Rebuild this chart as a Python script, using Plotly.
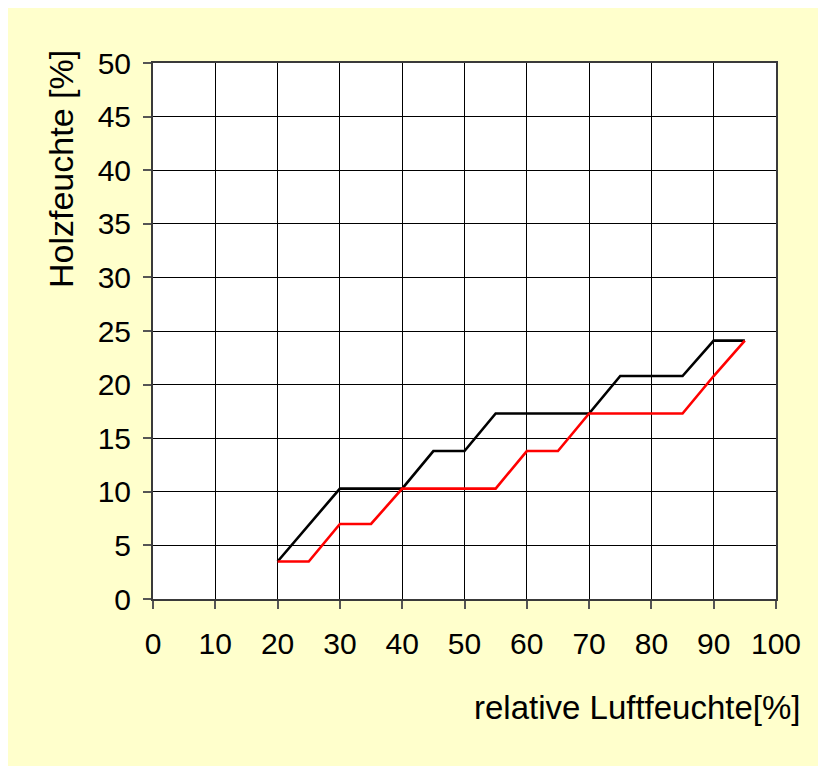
import plotly.graph_objects as go

# Data
black_x = [20, 30, 40, 45, 50, 55, 70, 75, 85, 90, 95]
black_y = [3.5, 10.3, 10.3, 13.8, 13.8, 17.3, 17.3, 20.8, 20.8, 24.1, 24.1]
red_x = [20, 25, 30, 35, 40, 55, 60, 65, 70, 85, 90, 95]
red_y = [3.5, 3.5, 7.0, 7.0, 10.3, 10.3, 13.8, 13.8, 17.3, 17.3, 20.8, 24.1]
x_ticks = [0, 10, 20, 30, 40, 50, 60, 70, 80, 90, 100]
y_ticks = [0, 5, 10, 15, 20, 25, 30, 35, 40, 45, 50]
x_title = "relative Luftfeuchte[%]"
y_title = "Holzfeuchte [%]"

W, H = 826, 766
OFF = 8  # page offset of the figure in the screenshot
L, T = 153 - OFF, 63 - OFF
R = W - (776 - OFF)
B = H - (599 - OFF)
pw, ph = W - L - R, H - T - B

def px_x(p):
    return (p - OFF - L) / pw

def px_y(p):
    return (H - B - (p - OFF)) / ph

fig = go.Figure()
fig.add_trace(go.Scatter(x=black_x, y=black_y, mode="lines",
                         line=dict(color="#000000", width=2.6), showlegend=False))
fig.add_trace(go.Scatter(x=red_x, y=red_y, mode="lines",
                         line=dict(color="#FF0000", width=2.6), showlegend=False))

font = "Liberation Sans, Arial, sans-serif"
axis_common = dict(showgrid=True, gridcolor="#000000", gridwidth=1,
                   showline=True, linecolor="#3a3a3a", linewidth=2, mirror=True,
                   ticks="outside", ticklen=8, tickcolor="#555555", tickwidth=1.5,
                   zeroline=False, tickfont=dict(family=font, size=30, color="#000000"))

fig.update_xaxes(range=[0, 100], tickvals=x_ticks, ticktext=[str(v) for v in x_ticks],
                 ticklabelstandoff=9, **axis_common)
fig.update_yaxes(range=[0, 50], tickvals=y_ticks, ticktext=[str(v) for v in y_ticks],
                 ticklabelstandoff=6, **axis_common)

fig.add_annotation(text=x_title, xref="paper", yref="paper",
                   x=px_x(803), y=px_y(707), xanchor="right", yanchor="middle",
                   showarrow=False, font=dict(family=font, size=33, color="#000000"))
fig.add_annotation(text=y_title, xref="paper", yref="paper", textangle=-90,
                   x=px_x(61), y=px_y(169), xanchor="center", yanchor="middle",
                   showarrow=False, font=dict(family=font, size=34, color="#000000"))

fig.update_layout(width=W, height=H, margin=dict(l=L, r=R, t=T, b=B),
                  paper_bgcolor="#FFFFCC", plot_bgcolor="#FFFFFF",
                  showlegend=False)

fig.write_html("out.html")
